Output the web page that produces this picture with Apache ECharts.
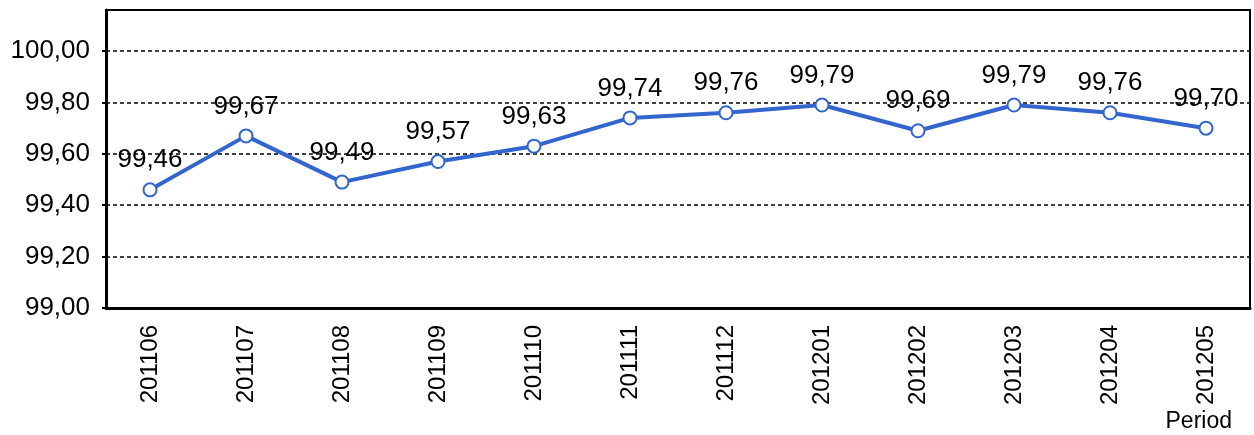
<!DOCTYPE html>
<html>
<head>
<meta charset="utf-8">
<script src="https://cdn.jsdelivr.net/npm/echarts@6/dist/echarts.min.js"></script>
<style>
  html, body { margin: 0; padding: 0; background: #fff; }
  #chart { width: 1254px; height: 435px; }
</style>
</head>
<body>
<div id="chart"></div>
<script>
// periods and values
var periods = ['201106', '201107', '201108', '201109', '201110', '201111',
               '201112', '201201', '201202', '201203', '201204', '201205'];
var values = [99.46, 99.67, 99.49, 99.57, 99.63, 99.74, 99.76, 99.79, 99.69, 99.79, 99.76, 99.70];
var yMin = 99, yMax = 100.16, yStep = 0.2;

function comma(v) {
	return v.toFixed(2).replace('.', ',');
}

var font = 'Arial, "Liberation Sans", sans-serif';
var chart = echarts.init(document.getElementById('chart'));

chart.setOption({
	animation: false,
	textStyle: { fontFamily: font },
	grid: [
		// frame + y axis
		{ left: 106, right: 4, top: 10, bottom: 127, show: true, borderColor: '#000', borderWidth: 2 },
		// data area (categories are a bit wider than the frame)
		{ left: 102, width: 1153, top: 10, bottom: 127 }
	],
	xAxis: [{
		gridIndex: 0,
		type: 'category',
		data: periods,
		axisLine: { lineStyle: { color: '#000', width: 3 } },
		axisTick: { show: false },
		axisLabel: { show: false }
	}, {
		gridIndex: 1,
		type: 'category',
		data: periods,
		axisLine: { show: false },
		axisTick: { show: false },
		axisLabel: {
			rotate: 90,
			margin: 17,
			fontSize: 24,
			color: '#000',
			fontFamily: font
		},
		name: 'Period',
		nameLocation: 'end',
		nameGap: -22,
		nameTextStyle: {
			fontSize: 23,
			color: '#000',
			fontFamily: font,
			align: 'right',
			verticalAlign: 'top',
			padding: [102, 0, 0, 0]
		}
	}],
	yAxis: [{
		gridIndex: 0,
		type: 'value',
		min: yMin,
		max: yMax,
		interval: yStep,
		axisLine: { show: true, lineStyle: { color: '#000', width: 3 } },
		axisTick: { show: true, length: 4, lineStyle: { color: '#000', width: 2 } },
		axisLabel: {
			margin: 16,
			fontSize: 26,
			color: '#000',
			fontFamily: font,
			showMaxLabel: false,
			formatter: function (v) { return comma(v); }
		},
		splitLine: {
			show: true,
			lineStyle: { color: '#000', width: 1.5, type: [4, 3] }
		}
	}, {
		gridIndex: 1,
		type: 'value',
		min: yMin,
		max: yMax,
		interval: yStep,
		show: false
	}],
	series: [{
		type: 'line',
		xAxisIndex: 1,
		yAxisIndex: 1,
		data: values,
		symbol: 'emptyCircle',
		symbolSize: 13,
		lineStyle: { color: '#3366cc', width: 4 },
		itemStyle: { color: '#3366cc', borderColor: '#3366cc', borderWidth: 3 },
		label: {
			show: true,
			position: 'top',
			distance: 9,
			fontSize: 26,
			color: '#000',
			fontFamily: font,
			formatter: function (p) { return comma(p.value); }
		}
	}]
});
</script>
</body>
</html>
